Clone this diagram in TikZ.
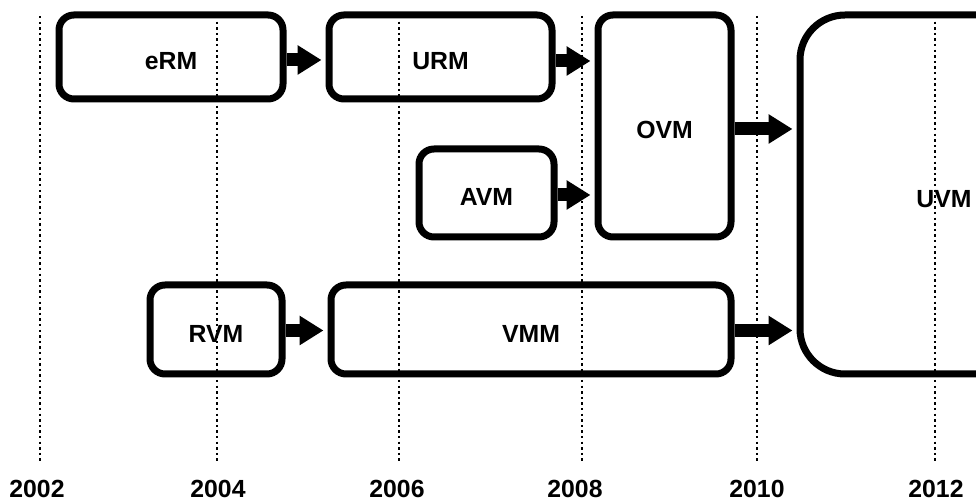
\documentclass[tikz,border=0pt]{standalone}
\usepackage{fontspec}
\setmainfont{Liberation Sans}
\usetikzlibrary{arrows.meta}
\tikzset{
  every node/.style={font=\fontsize{12.4}{14}\selectfont\bfseries},
  era/.style={draw, line width=3.5pt, rounded corners=7.5pt, inner sep=0pt, text height=13pt, text depth=0pt},
  bigera/.style={era, rounded corners=22.5pt},
  dotline/.style={line width=1.3pt, dash pattern=on 1.2pt off 1.6pt},
  flow/.style={line width=6.5pt, -{Triangle[length=12pt, width=14pt]}, shorten >=2pt},
  year/.style={inner sep=0pt}
}
\begin{document}
\begin{tikzpicture}[x=0.5pt, y=-0.5pt]
\useasboundingbox (0,0) rectangle (976,501);
% timeline guides
\foreach \xx in {40,217,399,582,757,935} \draw[dotline] (\xx,16) -- (\xx,463);
% year labels
\node[year] (y2002) at (37,488.5) {2002};
\node[year] (y2004) at (218,488.5) {2004};
\node[year] (y2006) at (397,488.5) {2006};
\node[year] (y2008) at (575,488.5) {2008};
\node[year] (y2010) at (757,488.5) {2010};
\node[year] (y2012) at (936,488.5) {2012};
% boxes
\node[era, minimum width=112pt, minimum height=42pt] (eRM) at (171,57) {eRM};
\node[era, minimum width=111.5pt, minimum height=42pt] (URM) at (440.5,57) {URM};
\node[era, minimum width=66.5pt, minimum height=111pt] (OVM) at (664.5,126) {OVM};
\node[era, minimum width=67.5pt, minimum height=44pt] (AVM) at (486.5,193) {AVM};
\node[era, minimum width=66pt, minimum height=44.5pt] (RVM) at (216,329.5) {RVM};
\node[era, minimum width=200pt, minimum height=44.5pt] (VMM) at (531,329.5) {VMM};
\node[bigera, minimum width=144pt, minimum height=179.5pt] (UVM) at (944,194.5) {UVM};
% connectors
\draw[flow] ([yshift=-1.5pt]eRM.east) -- ([yshift=-1.5pt]eRM.east -| URM.west);
\draw[flow] ([yshift=-2pt]URM.east) -- ([yshift=-2pt]URM.east -| OVM.west);
\draw[flow] ([yshift=-1pt]AVM.east) -- ([yshift=-1pt]AVM.east -| OVM.west);
\draw[flow] ([yshift=-1.5pt]OVM.east) -- ([yshift=-1.5pt]OVM.east -| UVM.west);
\draw[flow] ([yshift=-0.5pt]RVM.east) -- ([yshift=-0.5pt]RVM.east -| VMM.west);
\draw[flow] ([yshift=-0.5pt]VMM.east) -- ([yshift=-0.5pt]VMM.east -| UVM.west);
\end{tikzpicture}
\end{document}
